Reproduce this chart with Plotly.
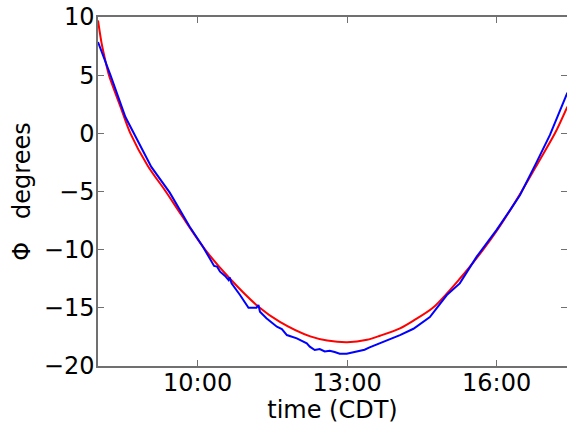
import plotly.graph_objects as go

DAY = "2015-06-01 "

def to_ts(h):
    hh = int(h)
    mm = (h - hh) * 60
    m = int(mm)
    s = int(round((mm - m) * 60))
    if s == 60:
        m += 1; s = 0
    return f"{DAY}{hh:02d}:{m:02d}:{s:02d}"

# model curve (red)
red_hours = [8.0, 8.07, 8.14, 8.22, 8.45, 8.65, 9.0, 9.36, 9.67, 10.15, 10.65, 11.22, 11.65,
             12.26, 12.6, 13.0, 13.4, 13.66, 14.06, 14.33, 14.72, 15.26, 15.73, 16.0, 16.5,
             16.85, 17.17, 17.42]
red_phi = [9.7, 7.8, 6.4, 5.0, 2.3, 0.0, -2.8, -5.0, -7.0, -10.0, -12.5, -14.9, -16.2,
           -17.45, -17.8, -17.95, -17.75, -17.4, -16.76, -16.1, -15.0, -12.5, -10.0, -8.4, -5.0,
           -2.4, 0.0, 2.3]

# measured (blue)
blue_hours = [8.0, 8.14, 8.25, 8.55, 8.72, 9.07, 9.44, 9.73, 9.84, 10.1, 10.28, 10.33, 10.39,
              10.45, 10.55, 10.62, 10.64, 10.68, 10.85, 11.02, 11.18, 11.22, 11.25, 11.38,
              11.59, 11.69, 11.79, 11.99, 12.19, 12.25, 12.35, 12.45, 12.55, 12.65, 12.75,
              12.85, 12.99, 13.1, 13.25, 13.35, 13.45, 13.66, 13.9, 14.06, 14.33, 14.66,
              15.0, 15.26, 15.6, 16.0, 16.27, 16.47, 16.8, 17.07, 17.42]
blue_phi = [7.85, 6.3, 5.0, 1.4, 0.0, -2.89, -5.1, -7.19, -8.03, -9.7, -11.03, -11.40, -11.46,
            -11.89, -12.26, -12.61, -12.38, -12.89, -13.90, -14.99, -14.99, -14.76, -15.33, -15.90,
            -16.62, -16.82, -17.34, -17.62, -18.05, -18.34, -18.63, -18.55, -18.75, -18.7, -18.8,
            -18.95, -18.95, -18.85, -18.65, -18.6, -18.4, -18.05, -17.6, -17.34, -16.8, -15.8,
            -13.9, -12.9, -10.6, -8.3, -6.6, -5.3, -2.5, -0.14, 3.5]

x_ticks = ["10:00", "13:00", "16:00"]
y_ticks = [-20, -15, -10, -5, 0, 5, 10]

fig = go.Figure()
fig.add_trace(go.Scatter(x=[to_ts(h) for h in red_hours], y=red_phi, mode="lines",
                         line=dict(color="#ff0000", width=2, shape="spline", smoothing=0.8),
                         showlegend=False, hoverinfo="skip"))
fig.add_trace(go.Scatter(x=[to_ts(h) for h in blue_hours], y=blue_phi, mode="lines",
                         line=dict(color="#0000ff", width=2),
                         showlegend=False, hoverinfo="skip"))

axis_common = dict(showline=True, linecolor="#707070", linewidth=1.5, mirror="ticks",
                   ticks="inside", ticklen=6, tickwidth=1, tickcolor="#707070",
                   showgrid=False, zeroline=False, automargin=False,
                   ticklabeloverflow="allow",
                   tickfont=dict(family="DejaVu Sans", size=24, color="black"))

fig.update_layout(
    width=567, height=424,
    margin=dict(l=98, r=0, t=17, b=58, pad=0),
    paper_bgcolor="white", plot_bgcolor="white",
    font=dict(family="DejaVu Sans", size=24, color="black"),
    xaxis=dict(type="date", range=[to_ts(8.0), to_ts(17.412)],
               tickvals=[DAY + t + ":00" for t in x_ticks], ticktext=x_ticks,
               ticklabelstandoff=-6,
               title=dict(text="time (CDT)", standoff=10,
                          font=dict(family="DejaVu Sans", size=24)),
               **axis_common),
    yaxis=dict(range=[-20, 10], tickvals=y_ticks,
               ticktext=[str(v).replace("-", "\u2212") for v in y_ticks],
               ticklabelstandoff=-3,
               title=dict(text="Φ\u00a0\u00a0\u00a0degrees", standoff=6,
                          font=dict(family="DejaVu Sans", size=24)),
               **axis_common),
)

# remove the default 8px page margin so the figure fills the window exactly
post = ("document.body.style.margin='0px';document.body.style.padding='0px';"
        "document.documentElement.style.overflow='hidden';")
fig.write_html("out.html", post_script=post, config={"displayModeBar": False})
